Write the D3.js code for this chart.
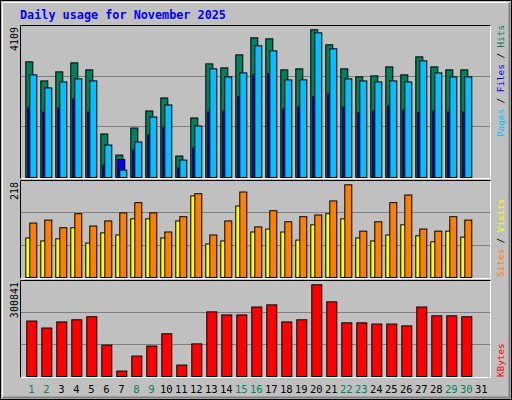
<!DOCTYPE html><html><head><meta charset="utf-8">
<script src="https://cdn.jsdelivr.net/npm/d3@7"></script>
<style>body{margin:0;background:#fff}</style></head><body><svg id="c" width="512" height="400"></svg>
<script>
const days = d3.range(1,32);
const weekends = [1,2,8,9,15,16,22,23,29,30];
const hits = [3217,2687,2938,3189,2994,1210,624,1377,1851,2213,597,1656,3161,3050,3412,3886,3858,2994,3022,4109,3691,3022,2799,2827,3077,2855,3356,3077,2994,2994];
const files = [2855,2492,2659,2743,2687,903,206,987,1684,2018,485,1433,3022,2799,2910,3663,3524,2715,2715,4025,3579,2743,2687,2659,2687,2659,3245,2910,2799,2799];
const pages = [1935,1823,1935,2185,1823,346,502,764,1182,1405,262,820,1823,1851,2241,2855,2883,1907,1962,2241,2325,1962,1795,1851,1990,1879,1795,1851,1823,1823];
const visits = [128,135,117,150,121,133,152,176,152,107,143,197,100,133,201,119,157,131,143,147,180,218,109,131,176,194,114,109,143,135];
const sites = [93,86,91,117,81,105,100,138,138,93,133,192,79,86,168,107,114,107,88,124,150,138,93,86,100,124,98,84,109,95];
const kbytes = [182000,159000,179000,186000,196000,103000,17800,67000,100000,140000,37500,107000,212000,202000,202000,228000,235000,179000,186000,300841,245000,176000,176000,172000,172000,166000,228000,199000,199000,196000];
const maxHits=4109, maxVisits=218, maxKB=300841;

const svg=d3.select("#c");
const mono="'DejaVu Sans Mono', monospace";
svg.append("rect").attr("x",0).attr("y",0).attr("width",512).attr("height",400).attr("fill","#c0c0c0");
svg.append("rect").attr("x",0.5).attr("y",0.5).attr("width",511).attr("height",399).attr("fill","none").attr("stroke","#000");
svg.append("path").attr("d","M2.5,397.5V2.5H509.5").attr("stroke","#fff").attr("fill","none");
svg.append("path").attr("d","M2.5,397.5H509.5V2.5").attr("stroke","#808080").attr("fill","none").attr("stroke-width",2);
svg.append("text").attr("x",20).attr("y",19).attr("font-family",mono).attr("font-weight","bold").attr("font-size",11.8).attr("fill","#0000ff").text("Daily usage for November 2025");

const x=d3.scaleLinear().domain([1,31]).range([25.3,475.3]);
const panels=[{t:25,b:177,top:29.3,max:maxHits,lab:"4109"},{t:180,b:277,top:184.3,max:maxVisits,lab:"218"},{t:280,b:376,top:284.3,max:maxKB,lab:"300841"}];
panels.forEach(p=>{
  p.y=d3.scaleLinear().domain([0,p.max]).range([p.b,p.top]);
  svg.append("rect").attr("x",20).attr("y",p.t).attr("width",471).attr("height",p.b-p.t+2).attr("fill","#c0c0c0");
  const h=p.b-p.t;
  [1/3,2/3].forEach(f=>svg.append("line").attr("x1",21).attr("x2",490).attr("y1",Math.round(p.b-h*f)+0.5).attr("y2",Math.round(p.b-h*f)+0.5).attr("stroke","#808080"));
  svg.append("path").attr("d",`M20.5,${p.b+2}V${p.t+0.5}H491`).attr("stroke","#000").attr("fill","none");
  svg.append("path").attr("d",`M20.5,${p.b+1.5}H490.5V${p.t+0.5}`).attr("stroke","#fff").attr("fill","none");
  svg.append("text").attr("transform",`translate(18,${p.t+2}) rotate(-90)`).attr("text-anchor","end").attr("font-family",mono).attr("font-size",10).attr("fill","#000").text(p.lab);
});
function bars(data,p,dx,w,color){
  svg.append("g").selectAll("rect").data(data).join("rect")
   .attr("x",(d,i)=>x(i+1)+dx+0.5).attr("y",d=>p.y(d)+0.5).attr("width",w).attr("height",d=>p.b-p.y(d))
   .attr("fill",color).attr("stroke","#000");
}
bars(hits,panels[0],0,7,"#00805c");
bars(pages,panels[0],2,7,"#0000ff");
bars(files,panels[0],4,7,"#00c0ff");
bars(sites,panels[1],0,7,"#ffff00");
bars(visits,panels[1],4,7,"#ff8000");
bars(kbytes,panels[2],1,10,"#ff0000");

svg.append("g").selectAll("text").data(days).join("text")
 .attr("x",d=>x(d)+6).attr("y",393).attr("text-anchor","middle").attr("font-family",mono).attr("font-size",10.5)
 .attr("fill",d=>weekends.includes(d)?"#00805c":"#000").text(d=>d);

function rlabel(y,parts){
  const t=svg.append("text").attr("transform",`translate(504,${y}) rotate(-90)`).attr("font-family",mono).attr("font-size",9.3);
  parts.forEach(([s,c])=>t.append("tspan").attr("fill",c).text(s));
}
rlabel(137,[["Pages","#00c0ff"],[" / ","#000"],["Files","#0000ff"],[" / ","#000"],["Hits","#00805c"]]);
rlabel(277,[["Sites","#ff8000"],[" / ","#000"],["Visits","#ffff00"]]);
rlabel(377,[["KBytes","#ff0000"]]);
</script></body></html>
